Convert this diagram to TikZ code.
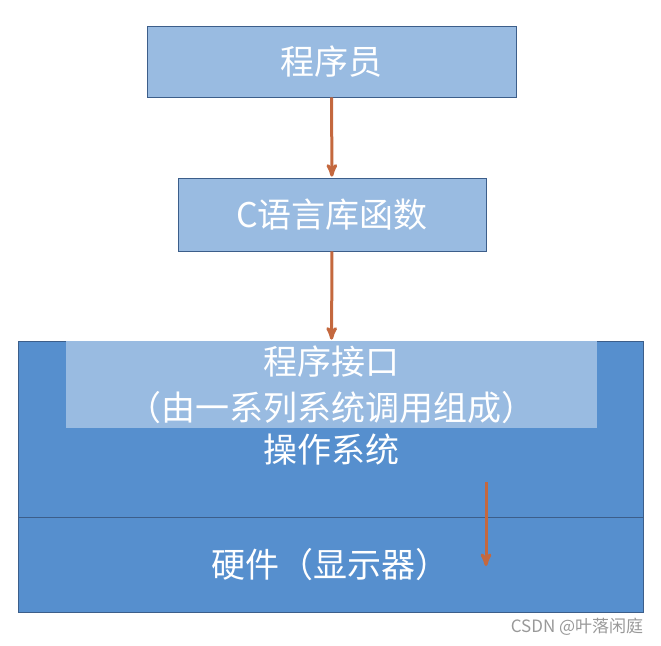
\documentclass[tikz,border=0pt]{standalone}
\usepackage{fontspec}
\setmainfont{Noto Sans CJK SC}
\usetikzlibrary{arrows}

\definecolor{lightblue}{RGB}{153,187,225}
\definecolor{osblue}{RGB}{86,143,206}
\definecolor{edgeblue}{RGB}{60,94,138}
\definecolor{arrowbrown}{RGB}{196,104,62}

\begin{document}
\begin{tikzpicture}[x=1pt,y=-1pt,>=stealth',semithick]
 \useasboundingbox (0,0) rectangle (661,645);
 \tikzstyle{box}=[draw=edgeblue,thick,text=white,inner sep=0pt,font=\fontsize{34}{46}\selectfont]
 \tikzstyle{flow}=[->,arrowbrown,line width=3pt,shorten >=1pt]

 \node[box,fill=lightblue,minimum width=369pt,minimum height=71pt]
              (prog) at (331.5,61.5) {程序员};
 \node[box,fill=lightblue,minimum width=308pt,minimum height=73pt]
              (clib) at (332,214.5) {C语言库函数};
 \node[box,fill=osblue,minimum width=625pt,minimum height=176pt]
              (os) at (330.5,429) {};
 \node[box,fill=osblue,minimum width=625pt,minimum height=95pt]
              (hw) at (330.5,564.5) {硬件（显示器）};
 \node[box,fill=lightblue,draw=none,minimum width=531pt,minimum height=87pt,align=center]
              (api) at (331.5,384.5) {程序接口\\（由一系列系统调用组成）};
 \node[text=white,font=\fontsize{34}{46}\selectfont] (ostext) at (331,450) {操作系统};
 \node[text=black!40,font=\fontsize{17}{20}\selectfont] (mark) at (577,627) {CSDN @叶落闲庭};

 \coordinate (down1) at (486,482);
 \coordinate (down2) at (486,567);

 \draw[flow] (prog) -- (clib);
 \draw[flow] (clib) -- (api);
 \draw[flow] (down1) -- (down2);
\end{tikzpicture}
\end{document}
